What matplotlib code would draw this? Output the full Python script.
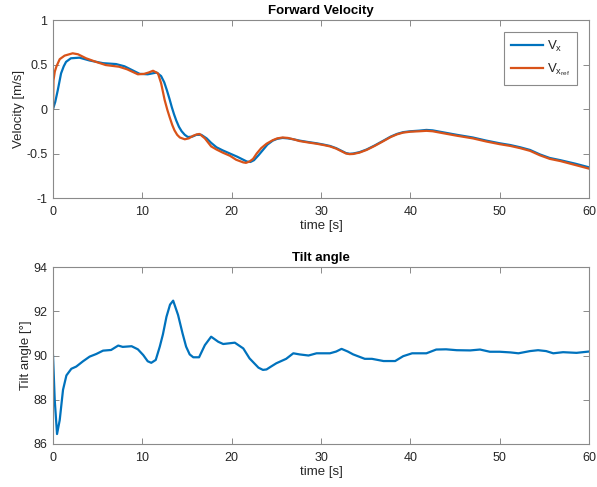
import matplotlib
matplotlib.use("Agg")
from matplotlib import pyplot as plt

# forward velocity, measured and reference
t_vx = [0, 0.25, 0.53, 0.9, 1.2, 1.46, 2.0, 2.96, 4.1, 5.6, 7.06, 8.0, 8.9, 9.7,
        10.6, 11.1, 11.6, 12.1, 12.45, 12.75, 13.05, 13.3, 13.55, 13.8, 14.1,
        14.4, 14.75, 15.1, 15.6, 16.05, 16.6, 17.2, 17.7, 18.3, 19.0, 19.8, 20.6,
        21.3, 21.7, 22.1, 22.5, 23.0, 23.5, 24.0, 24.6, 25.1, 25.7, 26.3, 26.9,
        27.6, 28.5, 29.5, 30.3, 31.0, 31.7, 32.3, 32.8, 33.2, 33.6, 34.3, 35.1,
        36.0, 37.0, 37.8, 38.5, 39.2, 40.0, 41.0, 41.8, 42.5, 43.3, 45.2, 47.0,
        48.5, 50.0, 51.2, 52.3, 53.4, 54.5, 55.6, 56.8, 58.5, 60.0]
vx = [0.0, 0.08, 0.21, 0.40, 0.48, 0.53, 0.57, 0.577, 0.545, 0.515, 0.505, 0.48,
      0.435, 0.395, 0.39, 0.40, 0.41, 0.37, 0.30, 0.21, 0.11, 0.02, -0.06, -0.13,
      -0.20, -0.25, -0.29, -0.315, -0.31, -0.29, -0.29, -0.33, -0.38, -0.43,
      -0.465, -0.50, -0.535, -0.57, -0.59, -0.595, -0.575, -0.52, -0.46, -0.40,
      -0.355, -0.335, -0.325, -0.33, -0.34, -0.355, -0.37, -0.385, -0.40,
      -0.415, -0.44, -0.47, -0.495, -0.503, -0.50, -0.485, -0.455, -0.41, -0.355,
      -0.31, -0.28, -0.26, -0.25, -0.243, -0.235, -0.24, -0.255, -0.29, -0.32,
      -0.355, -0.385, -0.405, -0.43, -0.46, -0.51, -0.55, -0.575, -0.615, -0.655]

t_ref = [0, 0.05, 0.2, 0.37, 0.75, 1.3, 2.2, 2.8, 3.7, 4.8, 5.9, 7.4, 8.3, 9.5,
         10.2, 10.7, 11.2, 11.75, 12.1, 12.5, 12.8, 13.05, 13.35, 13.6, 13.9,
         14.2, 14.75, 15.2, 15.7, 16.1, 16.4, 17.0, 17.7, 18.3, 19.0, 19.8, 20.5,
         21.3, 21.6, 22.0, 22.4, 22.8, 23.3, 23.9, 24.6, 25.1, 25.7, 26.3, 26.9,
         27.6, 28.5, 29.5, 30.3, 31.0, 31.7, 32.3, 32.8, 33.2, 33.6, 34.3, 35.1,
         36.0, 37.0, 37.8, 38.5, 39.2, 40.0, 41.0, 41.8, 42.5, 43.3, 45.2, 47.0,
         48.5, 50.0, 51.2, 52.3, 53.4, 54.5, 55.6, 56.8, 58.5, 60.0]
vx_ref = [0.0, 0.32, 0.42, 0.475, 0.56, 0.60, 0.626, 0.615, 0.57, 0.53, 0.494,
          0.475, 0.446, 0.39, 0.395, 0.41, 0.43, 0.40, 0.29, 0.10, -0.01, -0.09,
          -0.18, -0.24, -0.29, -0.32, -0.34, -0.33, -0.30, -0.285, -0.28, -0.33,
          -0.42, -0.455, -0.49, -0.525, -0.57, -0.60, -0.605, -0.59, -0.56, -0.50,
          -0.44, -0.39, -0.35, -0.33, -0.32, -0.325, -0.34, -0.36, -0.375, -0.39,
          -0.405, -0.42, -0.445, -0.475, -0.50, -0.507, -0.505, -0.49, -0.46,
          -0.415, -0.36, -0.315, -0.285, -0.265, -0.255, -0.25, -0.245, -0.25,
          -0.265, -0.30, -0.33, -0.365, -0.395, -0.415, -0.44, -0.47, -0.52,
          -0.56, -0.585, -0.63, -0.67]

# tilt angle
t_tilt = [0, 0.19, 0.45, 0.75, 1.12, 1.5, 2.05, 2.6, 3.36, 4.1, 4.85, 5.6, 6.5,
          7.3, 7.8, 8.8, 9.5, 10.1, 10.6, 11.0, 11.5, 11.95, 12.3, 12.7, 13.1,
          13.45, 14.0, 14.5, 14.9, 15.3, 15.7, 16.35, 17.0, 17.7, 18.5, 19.05,
          19.7, 20.35, 21.3, 22.0, 23.0, 23.5, 23.9, 24.4, 25.0, 26.1, 26.9,
          27.6, 28.6, 29.5, 31.0, 31.7, 32.3, 33.0, 33.6, 34.9, 35.7, 37.0, 38.3,
          39.2, 40.2, 41.8, 42.9, 44.0, 45.2, 46.7, 47.8, 48.9, 50.0, 51.2, 52.1,
          53.4, 54.3, 55.2, 56.0, 57.1, 58.6, 60.0]
tilt = [90.0, 88.0, 86.45, 87.08, 88.45, 89.1, 89.4, 89.5, 89.74, 89.95, 90.07,
        90.22, 90.25, 90.45, 90.39, 90.42, 90.28, 90.02, 89.74, 89.67, 89.8, 90.4,
        90.95, 91.75, 92.3, 92.48, 91.83, 91.0, 90.4, 90.05, 89.92, 89.92, 90.47,
        90.85, 90.62, 90.52, 90.55, 90.58, 90.32, 89.87, 89.45, 89.35, 89.37,
        89.5, 89.65, 89.85, 90.1, 90.05, 90.0, 90.1, 90.1, 90.18, 90.3, 90.18,
        90.05, 89.85, 89.85, 89.75, 89.75, 89.97, 90.1, 90.1, 90.27, 90.28, 90.24,
        90.23, 90.27, 90.17, 90.17, 90.14, 90.1, 90.2, 90.24, 90.2, 90.1, 90.15,
        90.12, 90.18]

BLUE = "#0072BD"
ORANGE = "#D95319"
EDGE = "#8a8a8a"
TEXT = "#262626"
plt.rcParams["font.family"] = ["Liberation Sans", "DejaVu Sans"]
plt.rcParams["mathtext.fontset"] = "custom"
plt.rcParams["mathtext.rm"] = "Liberation Sans"
plt.rcParams["mathtext.it"] = "Liberation Sans"


def style(ax, xlab, ylab, title):
    ax.set_xlim(0, 60)
    ax.set_xticks([0, 10, 20, 30, 40, 50, 60])
    ax.tick_params(direction="in", top=True, right=True, length=4, width=0.7,
                   labelsize=9, color=EDGE, labelcolor=TEXT, pad=4)
    ax.tick_params(axis="x", pad=6)
    for s in ax.spines.values():
        s.set_color(EDGE)
        s.set_linewidth(0.8)
    ax.set_xlabel(xlab, fontsize=9.5, color=TEXT, labelpad=1)
    ax.set_ylabel(ylab, fontsize=9.5, color=TEXT, labelpad=1)
    ax.set_title(title, fontsize=9.5, fontweight="bold", pad=4)


fig = plt.figure(figsize=(5.97, 4.87), dpi=100)
ax1 = fig.add_axes([0.0888, 0.5934, 0.8978, 0.3655])
ax2 = fig.add_axes([0.0888, 0.0883, 0.8978, 0.3634])

ax1.plot(t_vx, vx, color=BLUE, linewidth=1.6, label=r"V$_\mathregular{x}$")
ax1.plot(t_ref, vx_ref, color=ORANGE, linewidth=1.6,
         label=r"V$_{\mathregular{x}_\mathregular{ref}}$")
ax1.set_ylim(-1, 1)
ax1.set_yticks([-1, -0.5, 0, 0.5, 1])
ax1.set_yticklabels(["-1", "-0.5", "0", "0.5", "1"])
style(ax1, "time [s]", "Velocity [m/s]", "Forward Velocity")
leg = ax1.legend(loc="upper right", fontsize=9.5, fancybox=False, edgecolor=EDGE,
                 handlelength=2.4, handletextpad=0.35, borderaxespad=0.9,
                 labelspacing=0.6, borderpad=0.5, framealpha=1)
leg.get_frame().set_linewidth(0.8)
for txt in leg.get_texts():
    txt.set_color(TEXT)

ax2.plot(t_tilt, tilt, color=BLUE, linewidth=1.6)
ax2.set_ylim(86, 94)
ax2.set_yticks([86, 88, 90, 92, 94])
style(ax2, "time [s]", "Tilt angle [°]", "Tilt angle")

fig.savefig("out.png", dpi=100)
